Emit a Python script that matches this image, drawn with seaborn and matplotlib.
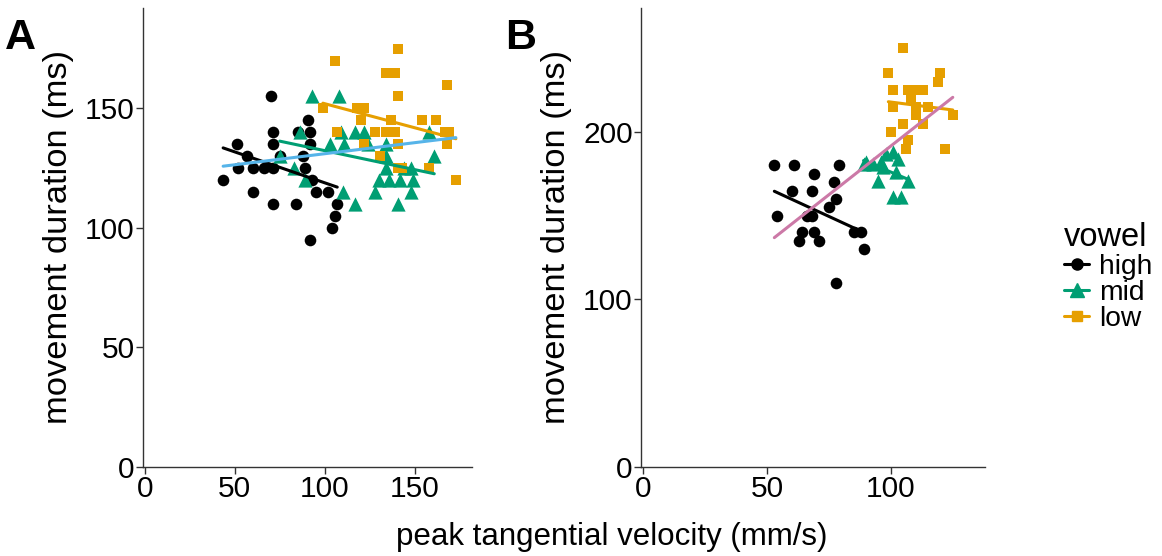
import numpy as np
import pandas as pd
import seaborn as sns
import matplotlib
matplotlib.use("Agg")
import matplotlib.pyplot as plt
from matplotlib.lines import Line2D

# ---------------- data ----------------
# Panel A
a_high_x = [70, 51, 43.5, 57, 52, 60, 66, 71, 71, 71, 75, 60, 71, 84, 91, 85, 92, 92, 88, 89, 93, 95, 102, 107, 106, 104, 92]
a_high_y = [155, 135, 120, 130, 125, 125, 125, 125, 140, 135, 130, 115, 110, 110, 145, 140, 140, 135, 130, 125, 120, 115, 115, 110, 105, 100, 95]
a_mid_x = [93, 108, 86, 109, 117, 122, 103, 111, 124, 134, 158, 161, 83, 75, 89, 134, 144, 148, 130, 136, 142, 149, 110, 128, 148, 117, 141, 134]
a_mid_y = [155, 155, 140, 140, 140, 140, 135, 135, 135, 135, 140, 130, 125, 130, 120, 125, 125, 125, 120, 120, 120, 120, 115, 115, 115, 110, 110, 130]
a_low_x = [141, 106, 134, 139, 168, 141, 99, 118, 122, 120, 137, 154, 162, 107, 128, 134, 139, 167, 169, 122, 141, 168, 131, 141, 143, 158, 173]
a_low_y = [175, 170, 165, 165, 160, 155, 150, 150, 150, 145, 145, 145, 145, 140, 140, 140, 140, 140, 140, 135, 135, 135, 130, 125, 125, 125, 120]
# Panel B
b_high_x = [53, 61, 79, 69, 77, 60, 68, 78, 75, 54, 66, 68, 64, 69, 85, 88, 63, 71, 89, 78]
b_high_y = [180, 180, 180, 175, 170, 165, 165, 160, 155, 150, 150, 150, 140, 140, 140, 140, 135, 135, 130, 110]
b_mid_x = [101, 98, 90, 93, 96, 97, 102, 95, 107, 101, 104, 89, 103]
b_mid_y = [188, 187, 182, 181, 182, 179, 176, 171, 171, 161, 161, 181, 184]
b_low_x = [105, 99, 120, 119, 101, 107, 110, 113, 108, 101, 110, 115, 110, 125, 105, 113, 100, 107, 106, 122]
b_low_y = [250, 235, 235, 230, 225, 225, 225, 225, 220, 215, 215, 215, 210, 210, 205, 205, 200, 195, 190, 190]

vowels = ["high", "mid", "low"]
colors = {"high": "#000000", "mid": "#009E73", "low": "#E69F00"}
markers = {"high": "o", "mid": "^", "low": "s"}
msize = {"high": 70, "mid": 105, "low": 60}
overall_color = {"A": "#56B4E9", "B": "#CC79A7"}

def frame(xs, ys):
    rows = []
    for v, x, y in zip(vowels, xs, ys):
        rows.append(pd.DataFrame({"vel": x, "dur": y, "vowel": v}))
    return pd.concat(rows, ignore_index=True)

dfA = frame([a_high_x, a_mid_x, a_low_x], [a_high_y, a_mid_y, a_low_y])
dfB = frame([b_high_x, b_mid_x, b_low_x], [b_high_y, b_mid_y, b_low_y])

# ---------------- figure ----------------
sns.set_theme(style="ticks")
plt.rcParams["font.family"] = ["Liberation Sans", "DejaVu Sans"]
plt.rcParams["text.color"] = "black"

W, H = 1162, 556
fig = plt.figure(figsize=(W / 100, H / 100), dpi=100)

def px_axes(l, r, t, b):
    return fig.add_axes([l / W, 1 - b / H, (r - l) / W, (b - t) / H])

axA = px_axes(143, 472, 8, 467)
axB = px_axes(641, 985, 8, 467)

def draw(ax, df, panel):
    for v in vowels:
        sub = df[df.vowel == v]
        sns.scatterplot(data=sub, x="vel", y="dur", ax=ax, color=colors[v],
                        marker=markers[v], s=msize[v], linewidth=0, legend=False, zorder=3)
    for v in vowels:
        sub = df[df.vowel == v]
        sns.regplot(data=sub, x="vel", y="dur", ax=ax, scatter=False, ci=None,
                    color=colors[v], line_kws={"lw": 2.2, "zorder": 4})
    sns.regplot(data=df, x="vel", y="dur", ax=ax, scatter=False, ci=None,
                color=overall_color[panel], line_kws={"lw": 2.2, "zorder": 5})
    ax.set_xlabel("")
    ax.set_ylabel("movement duration (ms)", fontsize=24.8, color="black", labelpad=8)
    for s in ["top", "right"]:
        ax.spines[s].set_visible(False)
    for s in ["left", "bottom"]:
        ax.spines[s].set_color("#333333")
        ax.spines[s].set_linewidth(1.0)
    ax.tick_params(axis="both", labelsize=21.5, colors="#333333", labelcolor="#000000",
                   length=5, width=1.0, pad=1)

draw(axA, dfA, "A")
axA.set_xlim(-1.1, 182)
axA.set_ylim(0, 192)
axA.set_xticks([0, 50, 100, 150])
axA.set_yticks([0, 50, 100, 150])

draw(axB, dfB, "B")
axB.set_xlim(-0.8, 138)
axB.set_ylim(0, 274)
axB.set_xticks([0, 50, 100])
axB.set_yticks([0, 100, 200])

fig.text(612 / W, 1 - 537 / H, "peak tangential velocity (mm/s)", ha="center", va="center",
         fontsize=22.5, color="black")
fig.text(5 / W, 1 - 38 / H, "A", ha="left", va="center", fontsize=31, fontweight="bold", color="black")
fig.text(505 / W, 1 - 38 / H, "B", ha="left", va="center", fontsize=31, fontweight="bold", color="black")

handles = [Line2D([0], [0], color=colors[v], marker=markers[v], lw=2.2,
                  markersize={"high": 8, "mid": 9.5, "low": 7.5}[v]) for v in vowels]
leg = fig.legend(handles, vowels, title="vowel", loc="center left",
                 bbox_to_anchor=(1064 / W, 1 - 277 / H), frameon=False,
                 fontsize=20.3, title_fontsize=23.5, handlelength=0.9, handletextpad=0.35,
                 labelspacing=0.0, borderaxespad=0, borderpad=0)
leg._legend_box.align = "left"

fig.savefig("out.png", dpi=100)
